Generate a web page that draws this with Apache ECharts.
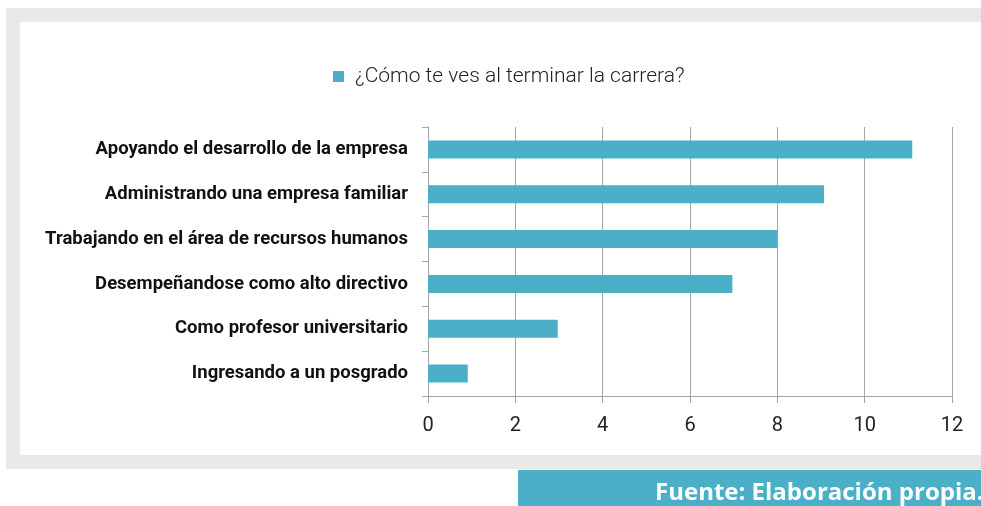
<!DOCTYPE html>
<html>
<head>
<meta charset="utf-8">
<script src="https://cdn.jsdelivr.net/npm/echarts@6/dist/echarts.min.js"></script>
<style>
  html, body { margin: 0; padding: 0; background: #fff; }
  #chart { width: 981px; height: 506px; }
</style>
</head>
<body>
<div id="chart"></div>
<script>
var dom = document.getElementById("chart");
var myChart = echarts.init(dom);

// data
var categories = [
    'Ingresando a un posgrado',
    'Como profesor universitario',
    'Desempeñandose como alto directivo',
    'Trabajando en el área de recursos humanos',
    'Administrando una empresa familiar',
    'Apoyando el desarrollo de la empresa'
];
var values = [0.91, 2.97, 6.97, 8, 9.07, 11.09];
var seriesName = '¿Cómo te ves al terminar la carrera?';
var sourceText = 'Fuente: Elaboración propia.';

var teal = '#4AAFC7';

var option = {
    backgroundColor: '#fff',
    animation: false,
    graphic: [
        // gray frame
        { type: 'rect', z: -10, shape: { x: 6, y: 8, width: 990, height: 461 }, style: { fill: '#e9e9e9' } },
        { type: 'rect', z: -9, shape: { x: 20, y: 22, width: 990, height: 433 }, style: { fill: '#fff' } },
        // source box
        { type: 'rect', z: -9, shape: { x: 518, y: 470, width: 480, height: 40 }, style: { fill: teal } },
        { type: 'text', left: 655, top: 481, style: { text: sourceText, fill: '#fff', font: 'bold 24px "Open Sans"' } }
    ],
    legend: {
        left: 328,
        top: 61,
        icon: 'rect',
        itemWidth: 11,
        itemHeight: 11,
        textStyle: { fontFamily: 'Roboto', fontSize: 21, fontWeight: 300, color: '#222', padding: [0, 0, 0, 6] },
        data: [seriesName]
    },
    grid: {
        left: 428,
        right: 29,
        top: 127,
        bottom: 110,
        containLabel: false
    },
    xAxis: {
        type: 'value',
        min: 0,
        max: 12,
        interval: 2,
        axisLine: { show: true, lineStyle: { color: '#a6a6a6', width: 1 } },
        axisTick: { show: true, length: 7, lineStyle: { color: '#a6a6a6' } },
        splitLine: { show: true, lineStyle: { color: '#a6a6a6', width: 1 } },
        axisLabel: { margin: 20, fontFamily: 'Roboto', fontSize: 20, color: '#222' }
    },
    yAxis: {
        type: 'category',
        data: categories,
        axisLine: { show: true, lineStyle: { color: '#a6a6a6' } },
        axisTick: { show: true, length: 6, lineStyle: { color: '#a6a6a6' } },
        axisLabel: { margin: 20, padding: [5, 0, 0, 0], fontFamily: 'Roboto', fontWeight: 'bold', fontSize: 18.5, color: '#111' }
    },
    series: [
        {
            name: seriesName,
            type: 'bar',
            barWidth: 18,
            itemStyle: { color: teal },
            data: values
        }
    ]
};
myChart.setOption(option);
</script>
</body>
</html>
